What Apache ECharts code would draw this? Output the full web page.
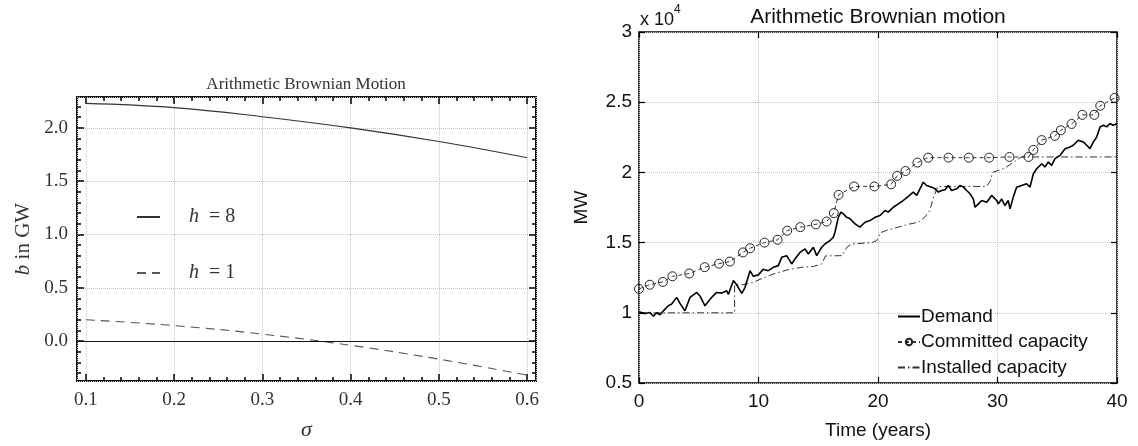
<!DOCTYPE html>
<html>
<head>
<meta charset="utf-8">
<script src="https://cdn.jsdelivr.net/npm/echarts@6/dist/echarts.min.js"></script>
<style>
html, body { margin: 0; padding: 0; background: #fff; }
#chart { width: 1138px; height: 446px; }
</style>
</head>
<body>
<div id="chart"></div>
<script>
// left panel: b (GW) vs sigma
const sigma = [0.1, 0.2, 0.3, 0.4, 0.5, 0.6];
const bH8 = [2.23, 2.19, 2.105, 2.0, 1.872, 1.72];
const bH1 = [0.2, 0.145, 0.065, -0.04, -0.17, -0.32];
const sigmaTicks = [0.1, 0.2, 0.3, 0.4, 0.5, 0.6];
const bTicks = [0, 0.5, 1, 1.5, 2];

// right panel: MW (x 10^4) vs years
const demandYears = [0, 0.5, 0.92, 1.2, 1.48, 1.76, 2.04, 2.45, 2.73, 3.15, 3.43, 3.85, 4.27, 4.83, 5.1, 5.52, 6.08, 6.5, 6.92, 7.34, 7.48, 7.9, 8.17, 8.6, 8.87, 9.29, 9.57, 9.99, 10.4, 10.82, 11.24, 11.66, 11.94, 12.36, 12.78, 13.05, 13.47, 13.89, 14.17, 14.59, 14.87, 15.29, 15.56, 15.98, 16.26, 16.4, 16.68, 16.9, 17.1, 17.38, 17.66, 18.08, 18.49, 18.91, 19.33, 19.75, 20.17, 20.59, 20.86, 21.28, 21.7, 22.12, 22.54, 22.95, 23.24, 23.51, 23.79, 24.07, 24.49, 24.77, 25.05, 25.33, 25.61, 25.88, 26.16, 26.58, 26.86, 27.14, 27.42, 27.7, 27.98, 28.12, 28.4, 28.68, 29.1, 29.51, 29.93, 30.07, 30.35, 30.63, 30.9, 31.05, 31.32, 31.6, 32.02, 32.44, 32.72, 33.0, 33.28, 33.7, 33.97, 34.25, 34.53, 34.81, 35.23, 35.65, 36.07, 36.34, 36.76, 37.18, 37.46, 37.74, 38.02, 38.3, 38.58, 38.86, 39.14, 39.41, 39.69, 40];
const demandMW = [1.007, 0.995, 1.002, 0.976, 1.0, 0.986, 1.014, 1.05, 1.062, 1.11, 1.067, 1.014, 1.11, 1.145, 1.12, 1.05, 1.11, 1.145, 1.14, 1.157, 1.13, 1.23, 1.2, 1.138, 1.18, 1.3, 1.26, 1.27, 1.31, 1.3, 1.324, 1.336, 1.395, 1.407, 1.348, 1.383, 1.43, 1.455, 1.419, 1.467, 1.407, 1.467, 1.49, 1.514, 1.538, 1.574, 1.68, 1.717, 1.705, 1.68, 1.67, 1.633, 1.61, 1.645, 1.657, 1.68, 1.693, 1.729, 1.717, 1.752, 1.776, 1.8, 1.829, 1.86, 1.836, 1.883, 1.93, 1.907, 1.895, 1.883, 1.86, 1.871, 1.876, 1.907, 1.871, 1.883, 1.907, 1.895, 1.871, 1.848, 1.81, 1.752, 1.776, 1.8, 1.788, 1.836, 1.8, 1.776, 1.81, 1.764, 1.8, 1.74, 1.824, 1.895, 1.907, 1.919, 1.895, 1.99, 2.026, 2.062, 2.038, 2.074, 2.05, 2.098, 2.121, 2.169, 2.181, 2.193, 2.229, 2.217, 2.193, 2.169, 2.217, 2.252, 2.324, 2.336, 2.324, 2.348, 2.336, 2.348];

const committedYears = [0, 0.9, 2.0, 2.8, 4.2, 5.5, 6.7, 7.6, 8.7, 9.3, 10.5, 11.6, 12.4, 13.5, 14.8, 15.7, 16.3, 16.7, 18.0, 19.7, 21.1, 21.6, 22.3, 23.3, 24.2, 25.9, 27.6, 29.3, 31.0, 32.6, 33.0, 33.7, 34.8, 35.3, 36.2, 37.1, 38.1, 38.6, 39.8];
const committedMW = [1.17, 1.2, 1.22, 1.26, 1.28, 1.325, 1.35, 1.365, 1.43, 1.46, 1.5, 1.52, 1.585, 1.61, 1.63, 1.65, 1.71, 1.84, 1.9, 1.9, 1.915, 1.975, 2.01, 2.07, 2.105, 2.105, 2.105, 2.105, 2.11, 2.11, 2.16, 2.23, 2.26, 2.3, 2.345, 2.41, 2.41, 2.475, 2.53];

const installedYears = [0, 8.0, 8.0, 8.7, 9.5, 10.3, 11.2, 12.4, 13.6, 14.6, 15.3, 15.6, 17.0, 17.4, 17.8, 19.5, 19.9, 20.2, 20.8, 21.7, 22.5, 23.4, 23.9, 24.35, 24.6, 25.0, 26.3, 29.1, 29.4, 29.6, 30.6, 31.3, 32.0, 40];
const installedMW = [1.0, 1.0, 1.2, 1.2, 1.215, 1.245, 1.275, 1.305, 1.324, 1.33, 1.348, 1.405, 1.407, 1.467, 1.49, 1.5, 1.515, 1.57, 1.59, 1.61, 1.63, 1.645, 1.68, 1.73, 1.81, 1.9, 1.9, 1.9, 1.94, 2.0, 2.03, 2.07, 2.11, 2.11];

const yearTicks = [0, 10, 20, 30, 40];
const mwTicks = [0.5, 1, 1.5, 2, 2.5, 3];

const zip = (xs, ys) => xs.map((x, i) => [x, ys[i]]);
const steps = (from, to, step) => {
    const out = [];
    for (let v = from; v <= to + 1e-9; v += step) out.push(Math.round(v * 1000) / 1000);
    return out;
};
const sigmaMinor = steps(0.1, 0.6, 0.02);
const bMinor = steps(-0.3, 2.2, 0.1);

const serif = 'Liberation Serif';
const sans = 'Liberation Sans';
const gridLine = { show: true, lineStyle: { color: '#c4c4c4', type: 'dotted', width: 1 } };

// axes that only draw ticks (mirrored / minor ticks)
function tickAxis(gridIndex, min, max, position, values, len, width) {
    return {
        type: 'value', gridIndex, min, max, position,
        axisLine: { show: false, onZero: false },
        axisLabel: { show: false },
        splitLine: { show: false },
        axisTick: { show: true, inside: true, length: len, customValues: values, lineStyle: { color: '#000', width } }
    };
}

const chart = echarts.init(document.getElementById('chart'));

const option = {
    backgroundColor: '#fff',
    animation: false,
    grid: [
        { left: 77, top: 97, width: 459, height: 285, show: true, borderColor: '#111', borderWidth: 2 },
        { left: 639, top: 32, width: 478, height: 351, show: true, borderColor: '#000', borderWidth: 1.5 }
    ],
    xAxis: [
        {
            type: 'value', gridIndex: 0, min: 0.09, max: 0.61,
            axisLine: { show: false, onZero: false }, axisTick: { show: false },
            axisLabel: { customValues: sigmaTicks, formatter: v => v.toFixed(1), fontFamily: serif, fontSize: 19, color: '#333', margin: 10 },
            splitLine: gridLine,
            name: 'σ', nameLocation: 'middle', nameGap: 38,
            nameTextStyle: { fontFamily: serif, fontStyle: 'italic', fontSize: 22, color: '#333' }
        },
        tickAxis(0, 0.09, 0.61, 'bottom', sigmaTicks, 7, 1.5),
        tickAxis(0, 0.09, 0.61, 'bottom', sigmaMinor, 4, 1.5),
        tickAxis(0, 0.09, 0.61, 'top', sigmaTicks, 7, 1.5),
        tickAxis(0, 0.09, 0.61, 'top', sigmaMinor, 4, 1.5),
        {
            type: 'value', gridIndex: 1, min: 0, max: 40, interval: 10,
            axisLine: { show: false, onZero: false },
            axisTick: { show: true, inside: true, length: 6, lineStyle: { color: '#000', width: 1.2 } },
            axisLabel: { fontFamily: sans, fontSize: 19, color: '#111', margin: 9 },
            splitLine: gridLine,
            name: 'Time (years)', nameLocation: 'middle', nameGap: 38,
            nameTextStyle: { fontFamily: sans, fontSize: 19, color: '#111' }
        },
        tickAxis(1, 0, 40, 'top', yearTicks, 6, 1.2)
    ],
    yAxis: [
        {
            type: 'value', gridIndex: 0, min: -0.375, max: 2.29,
            axisLine: { show: false, onZero: false }, axisTick: { show: false },
            axisLabel: { customValues: bTicks, formatter: v => v.toFixed(1), fontFamily: serif, fontSize: 19, color: '#333', margin: 9 },
            splitLine: gridLine,
            name: '{i|b}{n| in GW}', nameLocation: 'middle', nameGap: 43, nameRotate: 90,
            nameTextStyle: {
                rich: {
                    i: { fontFamily: serif, fontStyle: 'italic', fontSize: 21, color: '#333' },
                    n: { fontFamily: serif, fontSize: 21, color: '#333' }
                }
            }
        },
        tickAxis(0, -0.375, 2.29, 'left', bTicks, 7, 1.5),
        tickAxis(0, -0.375, 2.29, 'left', bMinor, 4, 1.5),
        tickAxis(0, -0.375, 2.29, 'right', bTicks, 7, 1.5),
        tickAxis(0, -0.375, 2.29, 'right', bMinor, 4, 1.5),
        {
            type: 'value', gridIndex: 1, min: 0.5, max: 3, interval: 0.5,
            axisLine: { show: false, onZero: false },
            axisTick: { show: true, inside: true, length: 6, lineStyle: { color: '#000', width: 1.2 } },
            axisLabel: { fontFamily: sans, fontSize: 19, color: '#111', margin: 7 },
            splitLine: gridLine,
            name: 'MW', nameLocation: 'middle', nameGap: 48, nameRotate: 90,
            nameTextStyle: { fontFamily: sans, fontSize: 19, color: '#111' }
        },
        tickAxis(1, 0.5, 3, 'right', mwTicks, 6, 1.2)
    ],
    legend: [
        {
            data: [{ name: 'h = 8' }, { name: 'h = 1' }],
            left: 131, top: 202, orient: 'vertical',
            itemWidth: 23, itemHeight: 14, itemGap: 36,
            itemStyle: { opacity: 0 },
            formatter: name => '{g|}{i|h}{n|  = ' + name.split('=')[1].trim() + '}',
            textStyle: {
                rich: {
                    g: { width: 24 },
                    i: { fontFamily: serif, fontStyle: 'italic', fontSize: 20, color: '#333' },
                    n: { fontFamily: serif, fontSize: 20, color: '#333' }
                }
            }
        },
        {
            data: [
                { name: 'Demand', itemStyle: { opacity: 0 } },
                { name: 'Committed capacity' },
                { name: 'Installed capacity', itemStyle: { opacity: 0 } }
            ],
            left: 892, top: 302, orient: 'vertical',
            itemWidth: 22, itemHeight: 8, itemGap: 6.5,
            textStyle: { fontFamily: sans, fontSize: 19, color: '#111', padding: [0, 0, 0, -4] }
        }
    ],
    graphic: [
        { type: 'text', x: 306, y: 85, style: { text: 'Arithmetic Brownian Motion', font: '17px "Liberation Serif"', fill: '#333', textAlign: 'center', textVerticalAlign: 'middle' } },
        { type: 'text', x: 878, y: 17, style: { text: 'Arithmetic Brownian motion', font: '21px "Liberation Sans"', fill: '#111', textAlign: 'center', textVerticalAlign: 'middle' } },
        { type: 'text', x: 640, y: 20, style: { text: 'x 10', font: '18px "Liberation Sans"', fill: '#111', textAlign: 'left', textVerticalAlign: 'middle' } },
        { type: 'text', x: 674, y: 10, style: { text: '4', font: '12px "Liberation Sans"', fill: '#111', textAlign: 'left', textVerticalAlign: 'middle' } }
    ],
    series: [
        {
            name: 'h = 8', type: 'line', xAxisIndex: 0, yAxisIndex: 0,
            data: zip(sigma, bH8), smooth: 0.4, symbol: 'none',
            lineStyle: { color: '#333', width: 1.1 },
            itemStyle: { color: '#333' },
            markLine: {
                silent: true, symbol: 'none', label: { show: false },
                lineStyle: { color: '#111', width: 1.2, type: 'solid' },
                data: [{ yAxis: 0 }]
            }
        },
        {
            name: 'h = 1', type: 'line', xAxisIndex: 0, yAxisIndex: 0,
            data: zip(sigma, bH1), smooth: 0.4, symbol: 'none',
            lineStyle: { color: '#555', width: 1.1, type: [9, 6] },
            itemStyle: { color: '#555' }
        },
        {
            name: 'Installed capacity', type: 'line', xAxisIndex: 5, yAxisIndex: 5,
            data: zip(installedYears, installedMW), symbol: 'none',
            lineStyle: { color: '#333', width: 1, type: [7, 3, 1.5, 3] },
            itemStyle: { color: '#333' }
        },
        {
            name: 'Committed capacity', type: 'line', xAxisIndex: 5, yAxisIndex: 5,
            data: zip(committedYears, committedMW), symbol: 'circle', symbolSize: 9,
            lineStyle: { color: '#333', width: 1, type: [4, 3] },
            itemStyle: { color: 'rgba(0,0,0,0)', borderColor: '#222', borderWidth: 1 }
        },
        {
            name: 'Demand', type: 'line', xAxisIndex: 5, yAxisIndex: 5,
            data: zip(demandYears, demandMW), symbol: 'none',
            lineStyle: { color: '#000', width: 1.6 },
            itemStyle: { color: '#000' }
        }
    ]
};

chart.setOption(option);
</script>
</body>
</html>
